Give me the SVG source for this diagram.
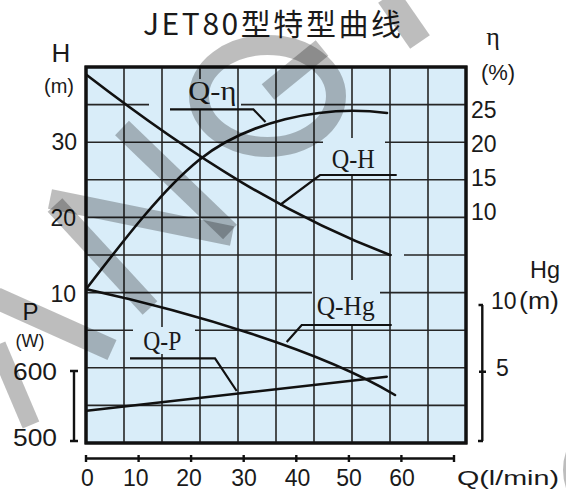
<svg xmlns="http://www.w3.org/2000/svg" width="566" height="491" viewBox="0 0 566 491">
<style>
.grid{stroke:#262626;stroke-width:1.6;fill:none}
.frame{fill:#d9edf9;stroke:#111;stroke-width:3}
.curve{fill:none;stroke:#111;stroke-width:2.6;stroke-linecap:round;stroke-linejoin:round}
.lead{fill:none;stroke:#111;stroke-width:2.2}
.ax{fill:none;stroke:#111;stroke-width:2.4}
.num{font-family:"Liberation Sans",Arial,sans-serif;font-size:23px;fill:#1a1a1a}
.lab{font-family:"Liberation Serif","Times New Roman",serif;font-size:28px;fill:#1a1a1a}
.wm{fill:none;stroke:#000;stroke-opacity:0.26}
</style>
<rect width="566" height="491" fill="#ffffff"/>
<g id="title">
<text x="143" y="35" font-family="Noto Sans CJK SC, sans-serif" font-size="30" fill="#1a1a1a" textLength="258" lengthAdjust="spacing">JET80型特型曲线</text>
</g>
<g id="plot">
<rect class="frame" x="86" y="67" width="380" height="376"/>
<path class="grid" d="M86,104.6H149M241,104.6H466M86,142.2H323M385,142.2H466M86,179.8H466M86,217.4H466M86,255H392M404,255H466M86,292.6H312M380,292.6H466M86,330.2H133M195,330.2H466M86,367.8H466M86,405.4H466"/>
<path class="grid" d="M124,67V443M162,67V327M162,354V443M200,67V79M200,109V443M238,67V443M276,67V443M314,67V443M352,67V138M352,175V280M352,325V443M390,67V443M428,67V443"/>
<rect x="86" y="67" width="380" height="376" fill="none" stroke="#111" stroke-width="3"/>
</g>
<g id="axis-H">
<text x="61" y="62" text-anchor="middle" font-family="Liberation Sans, sans-serif" font-size="26" fill="#1a1a1a">H</text>
<text x="59" y="93" text-anchor="middle" font-family="Liberation Sans, sans-serif" font-size="20" fill="#1a1a1a">(m)</text>
<text class="num" x="77" y="150" text-anchor="end">30</text>
<text class="num" x="76" y="226" text-anchor="end">20</text>
<text class="num" x="76" y="302" text-anchor="end">10</text>
</g>
<g id="axis-P">
<text x="30.5" y="320" text-anchor="middle" font-family="Liberation Sans, sans-serif" font-size="24" fill="#1a1a1a">P</text>
<text x="30" y="347" text-anchor="middle" font-family="Liberation Sans, sans-serif" font-size="18" fill="#1a1a1a">(W)</text>
<text class="num" x="13" y="380" textLength="44" lengthAdjust="spacingAndGlyphs">600</text>
<text class="num" x="13" y="446" textLength="44" lengthAdjust="spacingAndGlyphs">500</text>
<path class="ax" d="M70,371H78M74,371V441M70,441H78"/>
</g>
<g id="axis-eta">
<text x="493" y="44.5" text-anchor="middle" font-family="Liberation Serif, serif" font-size="26" fill="#1a1a1a">η</text>
<text x="498" y="80" text-anchor="middle" font-family="Liberation Sans, sans-serif" font-size="22" fill="#1a1a1a">(%)</text>
<text class="num" x="471" y="118">25</text>
<text class="num" x="471" y="152">20</text>
<text class="num" x="471" y="186">15</text>
<text class="num" x="471" y="220">10</text>
</g>
<g id="axis-Hg">
<text x="530" y="278" font-family="Liberation Sans, sans-serif" font-size="24" fill="#1a1a1a" textLength="30" lengthAdjust="spacingAndGlyphs">Hg</text>
<text class="num" x="491" y="309">10</text>
<text x="519" y="309" font-family="Liberation Sans, sans-serif" font-size="23" fill="#1a1a1a" textLength="40" lengthAdjust="spacingAndGlyphs">(m)</text>
<text class="num" x="496" y="376">5</text>
<path class="ax" d="M478.5,305H483M482.3,305V441M478,441H483M479,371.7H486"/>
</g>
<g id="axis-Q">
<path class="ax" d="M86,458.5H454M86,455V462M138.6,455V462M191.1,455V462M243.7,455V462M296.3,455V462M348.9,455V462M401.4,455V462M454,455V462"/>
<g class="num" text-anchor="middle">
<text x="87.5" y="486">0</text>
<text x="135.8" y="486">10</text>
<text x="189" y="486">20</text>
<text x="244" y="486">30</text>
<text x="297.5" y="486">40</text>
<text x="349" y="486">50</text>
<text x="402" y="486">60</text>
</g>
<text x="457" y="485" font-family="Liberation Sans, sans-serif" font-size="20" fill="#1a1a1a" textLength="102" lengthAdjust="spacingAndGlyphs">Q(l/min)</text>
</g>
<g id="curve-QH">
<path class="curve" d="M86.7,75C196.7,159.7 290,217 390,255"/>
<text class="lab" x="331.7" y="168" textLength="43" lengthAdjust="spacingAndGlyphs">Q-H</text>
</g>
<g id="curve-Qeta">
<path class="curve" d="M86.7,288.3C123.7,240.3 162,190 199,160C245,123 320,104 387,113"/>
<text class="lab" x="188.3" y="100" textLength="48" lengthAdjust="spacingAndGlyphs">Q-η</text>
</g>
<g id="curve-QHg">
<path class="curve" d="M86.7,289.3C190,312 320,350 395,395"/>
<text class="lab" x="316.7" y="315" textLength="58" lengthAdjust="spacingAndGlyphs">Q-Hg</text>
</g>
<g id="curve-QP">
<path class="curve" d="M86.7,410.7Q236,394 386.7,376.7"/>
<text class="lab" x="143.3" y="350" textLength="38" lengthAdjust="spacingAndGlyphs">Q-P</text>
</g>
<g id="connectors">
<path class="lead" d="M170,109.3H253.3L265.5,122"/>
<path class="lead" d="M396.7,175H320L280,205"/>
<path class="lead" d="M130,358.3H215L236.7,391"/>
<path class="lead" d="M391.7,325H301.7L286.7,342"/>
</g>
<g id="watermark" class="wm">
<path stroke-width="20" d="M50,199L232,236"/>
<path stroke-width="20" d="M122,128L230,232"/>
<path stroke-width="20" d="M55,205L150,308"/>
<path stroke-width="22" d="M-4,298L112,350"/>
<path stroke-width="18" d="M-3,345L31,425"/>
<ellipse stroke-width="20" cx="267.5" cy="96" rx="68.5" ry="51"/>
<path stroke-width="20" d="M322,48L268,92"/>
<path stroke-width="24" d="M388,-4L420,42"/>
<circle stroke-width="18" cx="617" cy="470" r="45"/>
</g>
</svg>
